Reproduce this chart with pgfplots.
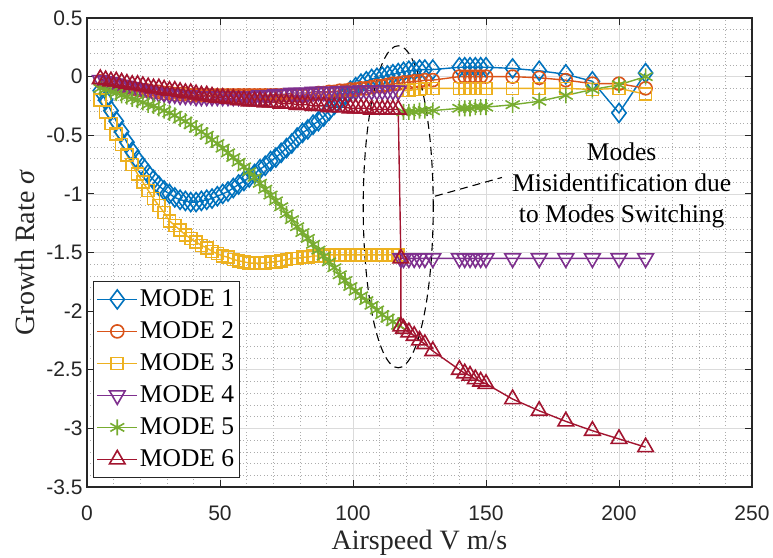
\documentclass[border=0pt]{standalone}
\usepackage{pgfplots}
\pgfplotsset{compat=1.18}
\usepackage{fontspec}
\setmainfont{Liberation Serif}
\newfontfamily\sansf{Liberation Sans}
\definecolor{c1}{rgb}{0,0.447,0.741}
\definecolor{c2}{rgb}{0.85,0.325,0.098}
\definecolor{c3}{rgb}{0.929,0.694,0.125}
\definecolor{c4}{rgb}{0.494,0.184,0.556}
\definecolor{c5}{rgb}{0.466,0.674,0.188}
\definecolor{c6}{rgb}{0.635,0.078,0.184}
\definecolor{axc}{rgb}{0.15,0.15,0.15}
\begin{document}
\begin{tikzpicture}
\useasboundingbox (-87pt,-70pt) rectangle (686pt,487pt);
\begin{axis}[
  x=2.66pt, y=117.25pt,
  xmin=0, xmax=250, ymin=-3.5, ymax=0.5,
  xtick={0,50,...,250},
  ytick={-3.5,-3,...,0.5},
  minor x tick num=4, minor y tick num=4,
  grid=both,
  major grid style={gray!28, line width=0.7pt},
  minor grid style={gray!65, line width=0.6pt, dash pattern=on 1pt off 2.4pt},
  minor tick length=0pt, major tick length=7pt,
  tick align=inside,
  every tick/.style={axc, line width=1pt},
  axis line style={axc, line width=1.2pt},
  /pgf/number format/assume math mode=true,
  tick label style={font=\sansf\fontsize{21}{24}\selectfont, text=axc},
  xticklabel style={yshift=-15pt},
  yticklabel style={xshift=-1pt},
  xlabel={Airspeed V m/s},
  ylabel={Growth Rate \textit{σ}},
  label style={font=\fontsize{28}{32}\selectfont, text=axc},
  xlabel style={at={(axis description cs:0.5,-0.119)}, anchor=center},
  ylabel style={at={(axis description cs:-0.093,0.5)}, anchor=center, rotate=0},
  unbounded coords=jump,
  every axis plot/.append style={line width=1.4pt},
  legend style={at={(rel axis cs:0,0)}, anchor=south west, xshift=6pt, yshift=9pt,
    font=\fontsize{25.5}{29}\selectfont, draw=axc, line width=1.2pt, text=black,
    inner xsep=3pt, inner ysep=2pt, row sep=0pt,
    nodes={inner sep=2pt, text height=21pt, text depth=7pt, text=black}},
  legend cell align=left,
  legend image code/.code={\draw[mark repeat=2,mark phase=2] plot coordinates {(0pt,0pt) (20pt,0pt) (40pt,0pt)};},
]
% MODE 1
\addplot[c1, mark=diamond, mark size=9.5pt, mark options={solid, line width=1.6pt}] table {
x y
5 -0.12
7 -0.20
9 -0.29
11 -0.38
13 -0.47
15 -0.56
17 -0.64
19 -0.71
21 -0.77
23 -0.83
25 -0.88
27 -0.93
29 -0.97
31 -1.00
33 -1.03
35 -1.05
37 -1.06
39 -1.07
41 -1.07
43 -1.06
45 -1.05
47 -1.04
49 -1.02
51 -1.00
53 -0.98
55 -0.95
57 -0.92
59 -0.89
61 -0.86
63 -0.83
65 -0.79
67 -0.76
69 -0.72
71 -0.69
73 -0.65
75 -0.61
77 -0.57
79 -0.52
81 -0.48
83 -0.45
85 -0.41
87 -0.38
89 -0.34
91 -0.29
93 -0.24
95 -0.20
97 -0.16
99 -0.12
101 -0.09
103 -0.06
105 -0.04
107 -0.02
109 -0.01
111 0.00
113 0.01
115 0.02
117 0.03
119 0.04
121 0.05
123 0.05
125 0.06
127 0.06
130 0.06
140 0.08
142 0.08
144 0.08
146 0.08
148 0.08
150 0.08
160 0.07
170 0.05
180 0.02
190 -0.04
200 -0.31
210 0.03
};
\addlegendentry{MODE 1}
% MODE 2
\addplot[c2, mark=o, mark size=6.5pt, mark options={solid, line width=1.6pt}] table {
x y
5 -0.04
7 -0.05
9 -0.06
11 -0.07
13 -0.08
15 -0.09
17 -0.10
19 -0.11
21 -0.12
23 -0.12
25 -0.13
27 -0.13
29 -0.14
31 -0.14
33 -0.15
35 -0.15
37 -0.15
39 -0.16
41 -0.16
43 -0.16
45 -0.16
47 -0.16
49 -0.16
51 -0.16
53 -0.16
55 -0.16
57 -0.16
59 -0.16
61 -0.16
63 -0.16
65 -0.16
67 -0.16
69 -0.16
71 -0.16
73 -0.16
75 -0.16
77 -0.16
79 -0.16
81 -0.16
83 -0.15
85 -0.15
87 -0.14
89 -0.14
91 -0.13
93 -0.13
95 -0.12
97 -0.12
99 -0.11
101 -0.11
103 -0.10
105 -0.10
107 -0.09
109 -0.08
111 -0.08
113 -0.07
115 -0.06
117 -0.06
119 -0.05
121 -0.05
123 -0.04
125 -0.04
127 -0.03
130 -0.03
140 0.00
142 0.00
144 0.00
146 0.00
148 0.00
150 0.00
160 0.00
170 -0.01
180 -0.03
190 -0.06
200 -0.06
210 -0.10
};
\addlegendentry{MODE 2}
% MODE 3
\addplot[c3, mark=square, mark size=6pt, mark options={solid, line width=1.6pt}] table {
x y
5 -0.20
7 -0.30
9 -0.40
11 -0.49
13 -0.58
15 -0.67
17 -0.75
19 -0.83
21 -0.90
23 -0.97
25 -1.04
27 -1.10
29 -1.16
31 -1.23
33 -1.27
35 -1.31
37 -1.35
39 -1.38
41 -1.41
43 -1.44
45 -1.46
47 -1.49
49 -1.51
51 -1.53
53 -1.54
55 -1.56
57 -1.57
59 -1.58
61 -1.59
63 -1.59
65 -1.59
67 -1.59
69 -1.58
71 -1.58
73 -1.57
75 -1.56
77 -1.55
79 -1.55
81 -1.54
83 -1.54
85 -1.53
87 -1.53
89 -1.53
91 -1.52
93 -1.52
95 -1.52
97 -1.52
99 -1.52
101 -1.52
103 -1.52
105 -1.52
107 -1.52
109 -1.52
111 -1.52
113 -1.52
115 -1.52
117 -1.52
118 nan
119 -0.12
121 -0.12
123 -0.11
125 -0.11
127 -0.10
130 -0.10
140 -0.10
142 -0.10
144 -0.10
146 -0.10
148 -0.10
150 -0.10
160 -0.10
170 -0.10
180 -0.10
190 -0.11
200 -0.10
210 -0.15
};
\addlegendentry{MODE 3}
% MODE 4
\addplot[c4, mark=triangle, mark size=9pt, mark options={solid, rotate=180, line width=1.6pt}] table {
x y
5 -0.03
7 -0.04
9 -0.05
11 -0.06
13 -0.07
15 -0.08
17 -0.09
19 -0.10
21 -0.11
23 -0.12
25 -0.13
27 -0.14
29 -0.14
31 -0.15
33 -0.15
35 -0.16
37 -0.16
39 -0.16
41 -0.17
43 -0.17
45 -0.17
47 -0.17
49 -0.17
51 -0.17
53 -0.17
55 -0.17
57 -0.17
59 -0.17
61 -0.17
63 -0.17
65 -0.16
67 -0.16
69 -0.16
71 -0.15
73 -0.15
75 -0.15
77 -0.14
79 -0.14
81 -0.14
83 -0.14
85 -0.13
87 -0.13
89 -0.13
91 -0.13
93 -0.13
95 -0.125
97 -0.125
99 -0.125
101 -0.125
103 -0.12
105 -0.12
107 -0.12
109 -0.12
111 -0.12
113 -0.12
115 -0.12
117 -0.12
117.5 nan
118 -1.55
119 -1.55
121 -1.55
123 -1.55
125 -1.55
127 -1.55
130 -1.55
140 -1.55
142 -1.55
144 -1.55
146 -1.55
148 -1.55
150 -1.55
160 -1.55
170 -1.55
180 -1.55
190 -1.55
200 -1.55
210 -1.55
};
\addlegendentry{MODE 4}
% MODE 5
\addplot[c5, mark=asterisk, mark size=8pt, mark options={solid, line width=1.6pt}] table {
x y
5 -0.10
7 -0.11
9 -0.13
11 -0.14
13 -0.16
15 -0.17
17 -0.19
19 -0.20
21 -0.22
23 -0.24
25 -0.25
27 -0.27
29 -0.29
31 -0.31
33 -0.33
35 -0.36
37 -0.38
39 -0.41
41 -0.44
43 -0.47
45 -0.50
47 -0.54
49 -0.57
51 -0.61
53 -0.65
55 -0.69
57 -0.73
59 -0.77
61 -0.81
63 -0.86
65 -0.91
67 -0.96
69 -1.01
71 -1.06
73 -1.11
75 -1.17
77 -1.22
79 -1.28
81 -1.33
83 -1.38
85 -1.43
87 -1.48
89 -1.53
91 -1.58
93 -1.63
95 -1.69
97 -1.74
99 -1.79
101 -1.83
103 -1.87
105 -1.91
107 -1.95
109 -1.99
111 -2.03
113 -2.06
115 -2.09
117 -2.12
118 nan
119 -0.30
121 -0.30
123 -0.30
125 -0.29
127 -0.29
130 -0.29
140 -0.27
142 -0.27
144 -0.27
146 -0.26
148 -0.26
150 -0.26
160 -0.24
170 -0.21
180 -0.16
190 -0.11
200 -0.07
210 0.00
};
\addlegendentry{MODE 5}
% MODE 6
\addplot[c6, mark=triangle, mark size=9pt, mark options={solid, line width=1.6pt}] table {
x y
5 -0.02
7 -0.03
9 -0.04
11 -0.04
13 -0.05
15 -0.06
17 -0.07
19 -0.07
21 -0.08
23 -0.09
25 -0.10
27 -0.10
29 -0.11
31 -0.12
33 -0.12
35 -0.13
37 -0.14
39 -0.14
41 -0.15
43 -0.16
45 -0.16
47 -0.17
49 -0.18
51 -0.18
53 -0.19
55 -0.19
57 -0.20
59 -0.20
61 -0.21
63 -0.21
65 -0.21
67 -0.22
69 -0.22
71 -0.22
73 -0.23
75 -0.23
77 -0.23
79 -0.24
81 -0.24
83 -0.24
85 -0.25
87 -0.25
89 -0.25
91 -0.26
93 -0.26
95 -0.26
97 -0.26
99 -0.27
101 -0.27
103 -0.27
105 -0.27
107 -0.28
109 -0.28
111 -0.28
113 -0.28
115 -0.28
117 -0.28
118 -1.55
118 -2.13
119 -2.15
121 -2.18
123 -2.21
125 -2.25
127 -2.28
130 -2.34
140 -2.50
142 -2.53
144 -2.55
146 -2.58
148 -2.60
150 -2.62
160 -2.75
170 -2.85
180 -2.94
190 -3.02
200 -3.09
210 -3.16
};
\addlegendentry{MODE 6}
% annotation
\draw[black, line width=1.1pt, dash pattern=on 8pt off 5pt] (axis cs:117,-1.11) ellipse [x radius=35pt, y radius=161pt];
\draw[black, line width=1.1pt, dash pattern=on 8pt off 5pt] (axis cs:130.8,-1.02) -- (axis cs:156,-0.86);
\node[align=center, font=\fontsize{25.5}{31}\selectfont, text=black] at (axis cs:201,-0.93) {Modes\\Misidentification due\\to Modes Switching};
\end{axis}
\end{tikzpicture}
\end{document}
